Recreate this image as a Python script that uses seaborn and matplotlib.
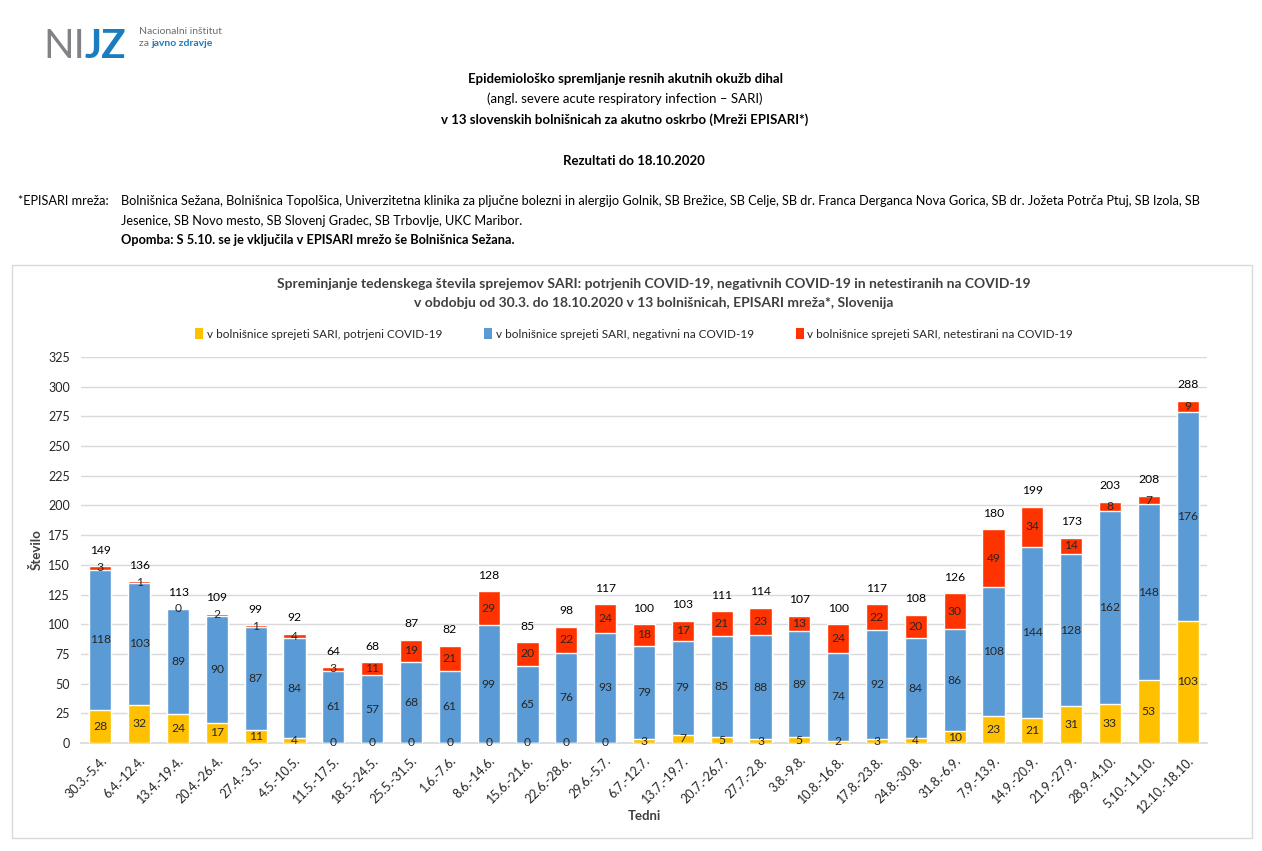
import numpy as np
import pandas as pd
import matplotlib.pyplot as plt
import seaborn as sns
from matplotlib.patches import Patch, Rectangle

# weekly SARI admissions, 13 hospitals (EPISARI)
weeks = ['30.3.-5.4.', '6.4.-12.4.', '13.4.-19.4.', '20.4.-26.4.', '27.4.-3.5.',
         '4.5.-10.5.', '11.5.-17.5.', '18.5.-24.5.', '25.5.-31.5.', '1.6.-7.6.',
         '8.6.-14.6.', '15.6.-21.6.', '22.6.-28.6.', '29.6.-5.7.', '6.7.-12.7.',
         '13.7.-19.7.', '20.7.-26.7.', '27.7.-2.8.', '3.8.-9.8.', '10.8.-16.8.',
         '17.8.-23.8.', '24.8.-30.8.', '31.8.-6.9.', '7.9.-13.9.', '14.9.-20.9.',
         '21.9.-27.9.', '28.9.-4.10.', '5.10.-11.10.', '12.10.-18.10.']
positive = [28, 32, 24, 17, 11, 4, 0, 0, 0, 0, 0, 0, 0, 0, 3, 7, 5, 3, 5, 2,
            3, 4, 10, 23, 21, 31, 33, 53, 103]
negative = [118, 103, 89, 90, 87, 84, 61, 57, 68, 61, 99, 65, 76, 93, 79, 79, 85,
            88, 89, 74, 92, 84, 86, 108, 144, 128, 162, 148, 176]
untested = [3, 1, 0, 2, 1, 4, 3, 11, 19, 21, 29, 20, 22, 24, 18, 17, 21, 23, 13,
            24, 22, 20, 30, 49, 34, 14, 8, 7, 9]

labels = ['v bolnišnice sprejeti SARI, potrjeni COVID-19',
          'v bolnišnice sprejeti SARI, negativni na COVID-19',
          'v bolnišnice sprejeti SARI, netestirani na COVID-19']
colors = ['#FFC000', '#5B9BD5', '#FF3300']

df = pd.DataFrame({'week': weeks, 'pos': positive, 'neg': negative, 'unt': untested})
df['pos_neg'] = df['pos'] + df['neg']
df['total'] = df['pos_neg'] + df['unt']

sns.set_theme(style='white')
plt.rcParams['font.family'] = ['Lato', 'DejaVu Sans']
txt = '#262626'

fig = plt.figure(figsize=(12.62, 8.51), dpi=100)
W, H = 1262, 851

def fx(px):
    return px / W

def fy(py):
    return 1 - py / H

# logo
fig.text(fx(43), fy(58), 'NI', fontsize=29, color='#808285', fontweight='normal')
fig.text(fx(85), fy(58), 'JZ', fontsize=29, color='#1B7CC0', fontweight='bold')
fig.text(fx(139), fy(32), 'Nacionalni inštitut', fontsize=7.5, color='#6D6E70', va='center')
fig.text(fx(139), fy(43), 'za ', fontsize=7.5, color='#6D6E70', va='center')
fig.text(fx(151), fy(43), 'javno zdravje', fontsize=7.5, color='#1B7CC0', va='center',
         fontweight='bold')

# header
hx = fx(625)
fig.text(hx, fy(79), 'Epidemiološko spremljanje resnih akutnih okužb dihal',
         ha='center', va='center', fontsize=9.5, fontweight='bold', color='black')
fig.text(hx, fy(99), '(angl. severe acute respiratory infection – SARI)',
         ha='center', va='center', fontsize=9.5, color='black')
fig.text(hx, fy(120), 'v 13 slovenskih bolnišnicah za akutno oskrbo (Mreži EPISARI*)',
         ha='center', va='center', fontsize=9.5, fontweight='bold', color='black')
fig.text(fx(634), fy(161), 'Rezultati do 18.10.2020',
         ha='center', va='center', fontsize=9.5, fontweight='bold', color='black')

fig.text(fx(18), fy(201), '*EPISARI mreža:', va='center', fontsize=9.2, color='black')
fig.text(fx(121), fy(201),
         'Bolnišnica Sežana, Bolnišnica Topolšica, Univerzitetna klinika za pljučne bolezni '
         'in alergijo Golnik, SB Brežice, SB Celje, SB dr. Franca Derganca Nova Gorica, '
         'SB dr. Jožeta Potrča Ptuj, SB Izola, SB',
         va='center', fontsize=9.2, color='black')
fig.text(fx(121), fy(221),
         'Jesenice, SB Novo mesto, SB Slovenj Gradec, SB Trbovlje, UKC Maribor.',
         va='center', fontsize=9.2, color='black')
fig.text(fx(121), fy(240), 'Opomba: S 5.10. se je vključila v EPISARI mrežo še Bolnišnica Sežana.',
         va='center', fontsize=9.2, fontweight='bold', color='black')

# chart frame
fig.patches.append(Rectangle((fx(12), fy(838)), fx(1252) - fx(12), fy(265) - fy(838),
                             transform=fig.transFigure, fill=False,
                             edgecolor='#D9D9D9', linewidth=1))

fig.text(fx(654), fy(284),
         'Spreminjanje tedenskega števila sprejemov SARI: potrjenih COVID-19, '
         'negativnih COVID-19 in netestiranih na COVID-19',
         ha='center', va='center', fontsize=10, fontweight='bold', color='#404040')
fig.text(fx(654), fy(303),
         'v obdobju od 30.3. do 18.10.2020 v 13 bolnišnicah, EPISARI mreža*, Slovenija',
         ha='center', va='center', fontsize=10, fontweight='bold', color='#404040')

ax = fig.add_axes([fx(81), fy(743), fx(1207) - fx(81), fy(357) - fy(743)])

# stacked bars: draw cumulative heights on top of each other
sns.barplot(data=df, x='week', y='total', color=colors[2], width=0.57,
            saturation=1, ax=ax, zorder=2)
sns.barplot(data=df, x='week', y='pos_neg', color=colors[1], width=0.57,
            saturation=1, ax=ax, zorder=3)
sns.barplot(data=df, x='week', y='pos', color=colors[0], width=0.57,
            saturation=1, ax=ax, zorder=4)

ax.set_xlim(-0.5, len(weeks) - 0.5)
ax.set_ylim(0, 325)
ax.set_yticks(np.arange(0, 326, 25))
ax.yaxis.grid(True, color='#D9D9D9', linewidth=1)
ax.set_axisbelow(True)
for s in ['top', 'right', 'left']:
    ax.spines[s].set_visible(False)
ax.spines['bottom'].set_color('#D9D9D9')
ax.tick_params(axis='both', length=0, labelsize=9, colors=txt, pad=8)
ax.set_xticks(range(len(weeks)))
ax.set_xticklabels(weeks, rotation=45, ha='right', rotation_mode='anchor')
ax.set_ylabel('Število', fontsize=9.5, fontweight='bold', color='#404040', labelpad=4)
ax.set_xlabel('Tedni', fontsize=9.5, fontweight='bold', color='#404040', labelpad=-4)

# value labels
for i, row in df.iterrows():
    ax.text(i, row['pos'] / 2, str(row['pos']), ha='center', va='center',
            fontsize=8.7, color=txt, zorder=6)
    ax.text(i, row['pos'] + row['neg'] / 2, str(row['neg']), ha='center', va='center',
            fontsize=8.7, color=txt, zorder=6)
    ax.text(i, row['pos_neg'] + row['unt'] / 2, str(row['unt']), ha='center', va='center',
            fontsize=8.7, color=txt, zorder=6)
    ax.annotate(str(row['total']), (i, row['total']), xytext=(0, 11.5),
                textcoords='offset points', ha='center', va='center',
                fontsize=8.7, color='black', zorder=6, annotation_clip=False)

handles = [Patch(facecolor=c, edgecolor='none') for c in colors]
fig.legend(handles, labels, loc='center', bbox_to_anchor=(fx(634), fy(334)), ncol=3,
           frameon=False, fontsize=8.5, handlelength=0.7, handleheight=1.0,
           handletextpad=0.3, columnspacing=3.55, labelcolor=txt)

fig.savefig('out.png', dpi=100)
